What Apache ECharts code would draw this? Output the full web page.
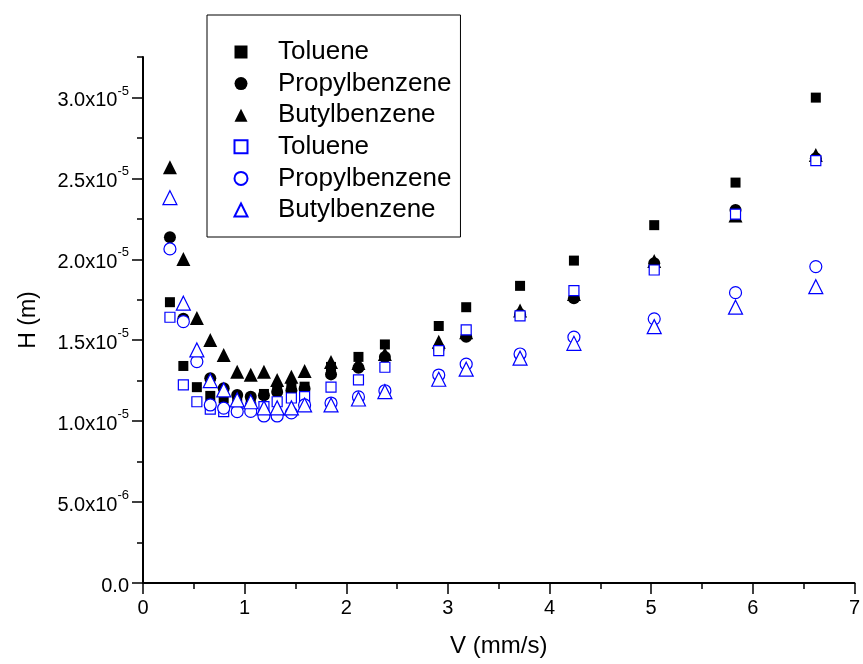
<!DOCTYPE html>
<html><head><meta charset="utf-8">
<script src="https://cdn.jsdelivr.net/npm/echarts@6/dist/echarts.min.js"></script>
<style>html,body{margin:0;padding:0;background:#fff}#c{width:863px;height:664px}</style>
</head><body><div id="c"></div>
<script>
// flow velocity (mm/s)
const V = [0.265,0.397,0.53,0.662,0.794,0.927,1.06,1.19,1.32,1.46,1.59,1.85,2.12,2.38,2.91,3.18,3.71,4.24,5.03,5.83,6.62];
// filled (black) series, H in m
const tolueneA = [1.735e-5,1.341e-5,1.21e-5,1.156e-5,1.14e-5,1.12e-5,1.14e-5,1.168e-5,1.193e-5,1.205e-5,1.213e-5,1.335e-5,1.397e-5,1.474e-5,1.588e-5,1.704e-5,1.836e-5,1.992e-5,2.211e-5,2.474e-5,2.999e-5];
const propylA  = [2.137e-5,1.632e-5,1.37e-5,1.265e-5,1.203e-5,1.162e-5,1.151e-5,1.16e-5,1.18e-5,1.19e-5,1.2e-5,1.289e-5,1.33e-5,1.397e-5,1.45e-5,1.522e-5,1.66e-5,1.76e-5,1.975e-5,2.305e-5,2.625e-5];
const butylA   = [2.569e-5,2.002e-5,1.638e-5,1.502e-5,1.409e-5,1.306e-5,1.286e-5,1.306e-5,1.255e-5,1.275e-5,1.31e-5,1.366e-5,1.36e-5,1.415e-5,1.49e-5,1.55e-5,1.683e-5,1.785e-5,1.99e-5,2.27e-5,2.645e-5];
// open (blue) series
const tolueneB = [1.642e-5,1.224e-5,1.12e-5,1.074e-5,1.059e-5,1.07e-5,1.08e-5,1.09e-5,1.12e-5,1.143e-5,1.151e-5,1.21e-5,1.255e-5,1.333e-5,1.436e-5,1.564e-5,1.65e-5,1.807e-5,1.934e-5,2.279e-5,2.61e-5];
const propylB  = [2.064e-5,1.615e-5,1.368e-5,1.1e-5,1.08e-5,1.059e-5,1.06e-5,1.032e-5,1.032e-5,1.051e-5,1.1e-5,1.112e-5,1.15e-5,1.188e-5,1.285e-5,1.352e-5,1.415e-5,1.519e-5,1.632e-5,1.794e-5,1.955e-5];
const butylB   = [2.381e-5,1.729e-5,1.44e-5,1.25e-5,1.193e-5,1.131e-5,1.12e-5,1.082e-5,1.082e-5,1.082e-5,1.1e-5,1.1e-5,1.137e-5,1.182e-5,1.259e-5,1.321e-5,1.389e-5,1.481e-5,1.584e-5,1.704e-5,1.831e-5];

const names = ['Toluene','Propylbenzene','Butylbenzene','Toluene ','Propylbenzene ','Butylbenzene '];
const yMajorTicks = [0, 5e-6, 1e-5, 1.5e-5, 2e-5, 2.5e-5, 3e-5];
const xTitle = 'V (mm/s)';
const yTitle = 'H (m)';

const FONT = '"Liberation Sans", Arial, sans-serif';
const BLUE = '#0000ff';
const pairs = ys => V.map((x, i) => [x, ys[i]]);

function mk(name, ys, symbol, size, filled) {
  return {
    name, type: 'scatter', data: pairs(ys), symbol, symbolSize: size,
    itemStyle: filled ? { color: '#000', borderWidth: 0, opacity: 1 }
                      : { color: '#fff', borderColor: BLUE, borderWidth: 1.2, opacity: 1 },
    emphasis: { disabled: true }, animation: false
  };
}

function yFmt(v) {
  if (Math.abs(v) < 1e-12) return '{m|0.0}';
  const e = Math.floor(Math.log10(v) + 1e-9);
  const m = (v / Math.pow(10, e)).toFixed(1);
  return '{m|' + m + 'x10}{s|' + e + '}';
}

const tickLine = { color: '#000', width: 1.5 };

const chart = echarts.init(document.getElementById('c'), null, { renderer: 'canvas' });
chart.setOption({
  backgroundColor: '#fff',
  animation: false,
  textStyle: { fontFamily: FONT },
  grid: { left: 143, right: 7, top: 57, bottom: 81 },
  legend: {
    orient: 'vertical', left: 207, top: 15,
    itemWidth: 13, itemHeight: 13, itemGap: 5.6,
    padding: [24, 9, 14, 26.5],
    borderColor: '#000', borderWidth: 1,
    textStyle: { fontSize: 26, fontFamily: FONT, color: '#000', lineHeight: 26, padding: [0, 0, 0, 25.5] },
    formatter: n => n.trim(),
    data: names
  },
  xAxis: {
    type: 'value', min: 0, max: 7, interval: 1,
    name: xTitle, nameLocation: 'middle', nameGap: 51,
    nameTextStyle: { fontSize: 24, color: '#000', fontFamily: FONT },
    axisLine: { onZero: false, lineStyle: { color: '#000', width: 2 } },
    axisTick: { inside: false, length: 11, lineStyle: tickLine },
    minorTick: { show: true, splitNumber: 2, length: 6, lineStyle: tickLine },
    splitLine: { show: false },
    axisLabel: { fontSize: 20, color: '#000', margin: 15, fontFamily: FONT }
  },
  yAxis: [{
    type: 'value', min: 0, max: 3.25e-5, interval: 2.5e-6,
    name: yTitle, nameLocation: 'middle', nameGap: 103,
    nameTextStyle: { fontSize: 23, color: '#000', fontFamily: FONT },
    axisLine: { onZero: false, lineStyle: { color: '#000', width: 2 } },
    axisTick: { inside: false, length: 6, lineStyle: tickLine },
    splitLine: { show: false },
    axisLabel: {
      margin: 14, formatter: yFmt, customValues: yMajorTicks,
      rich: {
        m: { fontSize: 20, color: '#000', fontFamily: FONT, lineHeight: 26, verticalAlign: 'bottom' },
        s: { fontSize: 13, color: '#000', fontFamily: FONT, lineHeight: 14, verticalAlign: 'top' }
      }
    }
  }, {
    type: 'value', min: 0, max: 3.25e-5, interval: 2.5e-6, position: 'left',
    axisLine: { show: false },
    axisTick: { inside: false, length: 11, lineStyle: tickLine, customValues: yMajorTicks },
    axisLabel: { show: false },
    splitLine: { show: false }
  }],
  series: [
    mk(names[0], tolueneA, 'rect', 10, true),
    mk(names[1], propylA, 'circle', 12, true),
    mk(names[2], butylA, 'triangle', 14, true),
    mk(names[3], tolueneB, 'rect', 10, false),
    mk(names[4], propylB, 'circle', 12, false),
    mk(names[5], butylB, 'triangle', 14, false)
  ]
});
</script></body></html>
